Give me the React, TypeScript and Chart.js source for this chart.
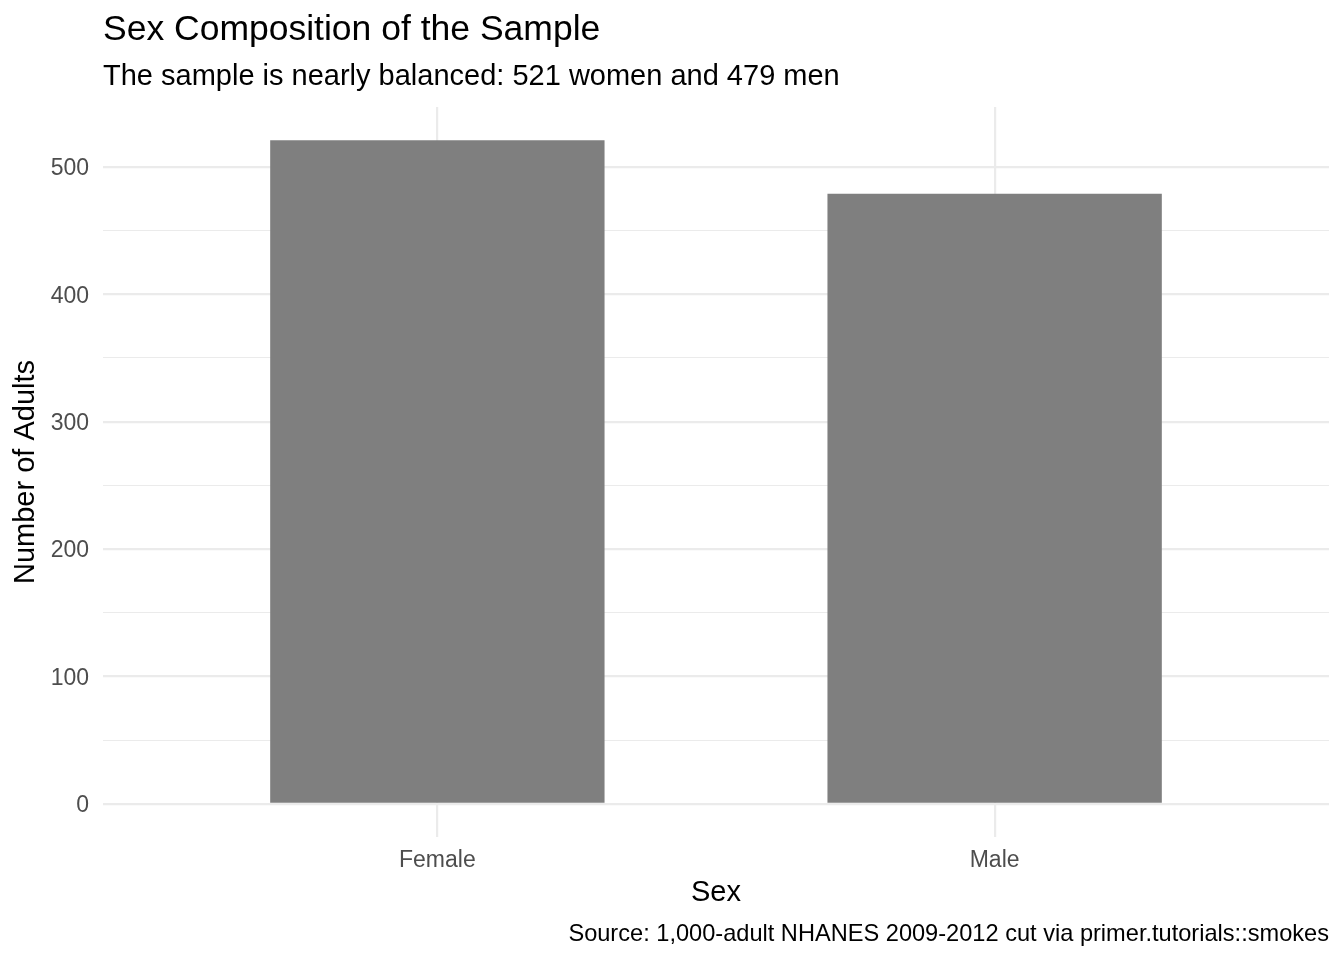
import { useEffect, useRef } from 'react';
import { Chart, registerables } from 'chart.js';

Chart.register(...registerables);

const categories = ['Female', 'Male'];
const counts = [521, 479];
const yTicks = [0, 50, 100, 150, 200, 250, 300, 350, 400, 450, 500];
const xTicks = [1, 2];

const titleText = 'Sex Composition of the Sample';
const subtitleText = 'The sample is nearly balanced: 521 women and 479 men';
const captionText = 'Source: 1,000-adult NHANES 2009-2012 cut via primer.tutorials::smokes';

const FONT = '"Liberation Sans", Arial, Helvetica, sans-serif';

// draws title, subtitle and caption aligned to the panel like ggplot does
const textPlugin = {
  id: 'ggText',
  afterDraw(chart: Chart) {
    const { ctx, chartArea } = chart;
    ctx.save();
    ctx.fillStyle = '#000000';
    ctx.textBaseline = 'middle';
    ctx.textAlign = 'left';
    ctx.font = `35.5px ${FONT}`;
    ctx.fillText(titleText, chartArea.left, 30);
    ctx.font = `29px ${FONT}`;
    ctx.fillText(subtitleText, chartArea.left, 77);
    ctx.textAlign = 'right';
    ctx.font = `23.6px ${FONT}`;
    ctx.fillText(captionText, chartArea.right, 934);
    ctx.restore();
  },
};

export default function App() {
  const chartRef = useRef<HTMLCanvasElement>(null);
  const chartInstance = useRef<Chart | null>(null);

  useEffect(() => {
    document.body.style.margin = '0';
    if (!chartRef.current) return;
    if (chartInstance.current) chartInstance.current.destroy();

    const ctx = chartRef.current.getContext('2d');
    if (!ctx) return;

    chartInstance.current = new Chart(ctx, {
      type: 'bar',
      data: {
        datasets: [{
          data: counts.map((v, i) => ({ x: i + 1, y: v })),
          backgroundColor: '#7f7f7f',
          borderWidth: 0,
          categoryPercentage: 1,
          barPercentage: 0.6,
        }],
      },
      plugins: [textPlugin],
      options: {
        responsive: true,
        maintainAspectRatio: false,
        animation: false,
        layout: { padding: { top: 107, right: 15, bottom: 49.6, left: 0 } },
        plugins: {
          legend: { display: false },
          tooltip: { enabled: false },
        },
        scales: {
          x: {
            type: 'linear',
            min: 0.4,
            max: 2.6,
            offset: false,
            afterBuildTicks: (scale: any) => {
              scale.ticks = xTicks.map(v => ({ value: v }));
            },
            afterFit: (scale: any) => { scale.height = 73.4; },
            grid: { color: '#ebebeb', lineWidth: 2.2, drawTicks: false, offset: false },
            border: { display: false },
            ticks: {
              padding: 10,
              color: '#4d4d4d',
              font: { family: FONT, size: 23 },
              callback: (v: any) => categories[Number(v) - 1] ?? '',
            },
            title: {
              display: true,
              text: 'Sex',
              color: '#000000',
              font: { family: FONT, size: 29 },
              padding: { top: 0, bottom: 0 },
            },
          },
          y: {
            type: 'linear',
            min: -26.05,
            max: 547.05,
            afterBuildTicks: (scale: any) => {
              scale.ticks = yTicks.map(v => ({ value: v }));
            },
            afterFit: (scale: any) => { scale.width = 103; },
            grid: {
              color: '#ebebeb',
              lineWidth: (c: any) => (c.tick && c.tick.value % 100 === 0 ? 2.2 : 1.1),
              drawTicks: false,
            },
            border: { display: false },
            ticks: {
              padding: 14,
              labelOffset: 2,
              color: '#4d4d4d',
              font: { family: FONT, size: 23 },
              callback: (v: any) => (Number(v) % 100 === 0 ? String(v) : ''),
            },
            title: {
              display: true,
              text: 'Number of Adults',
              color: '#000000',
              font: { family: FONT, size: 29 },
              padding: { top: 9, bottom: 0 },
            },
          },
        },
      },
    });

    return () => {
      if (chartInstance.current) {
        chartInstance.current.destroy();
        chartInstance.current = null;
      }
    };
  }, []);

  return (
    <div style={{ position: 'absolute', left: 0, top: 0, width: 1344, height: 960 }}>
      <canvas ref={chartRef}></canvas>
    </div>
  );
}
